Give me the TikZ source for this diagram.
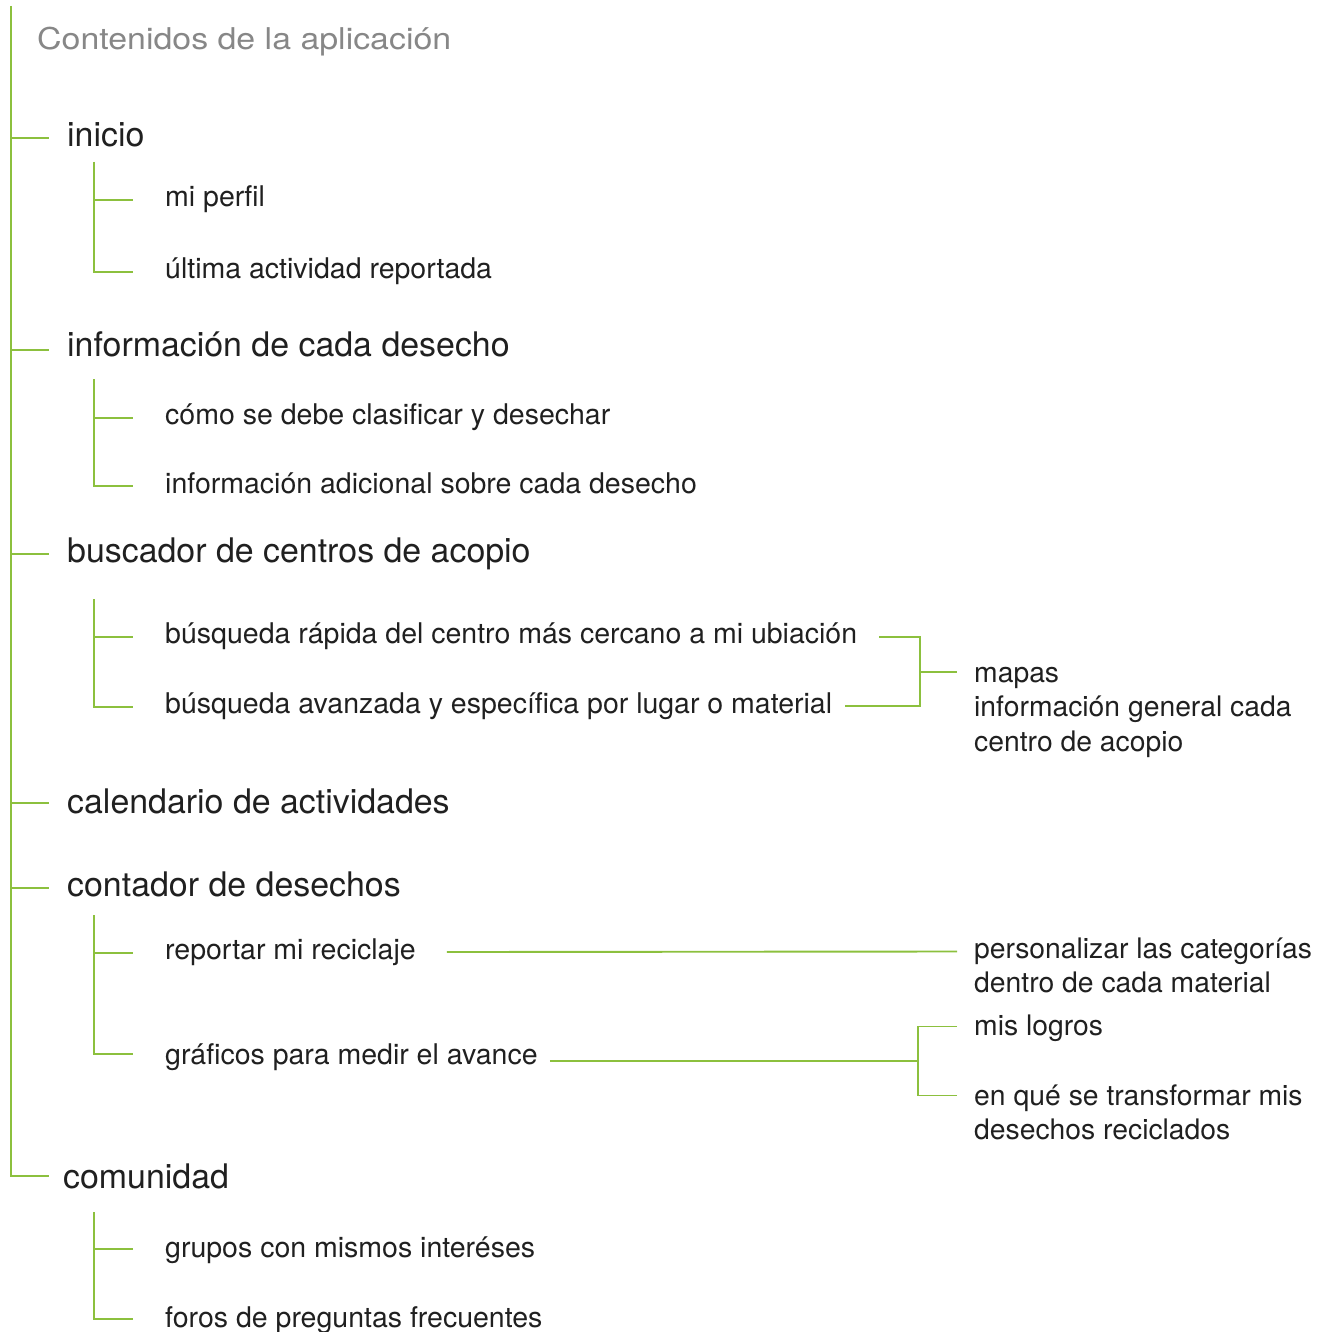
\documentclass[tikz,border=0pt]{standalone}
\usepackage{fontspec}
\setmainfont{TeX Gyre Heros}
\usetikzlibrary{calc}
\definecolor{leaf}{RGB}{140,192,62}
\definecolor{ink}{RGB}{32,32,32}
\definecolor{titlegray}{RGB}{135,135,135}
\begin{document}
\begin{tikzpicture}[x=1pt,y=-1pt,
  link/.style={draw=leaf,line width=1.9pt},
  titletext/.style={anchor=base west,inner sep=0pt,text=titlegray,xscale=1.13,transform shape,font=\fontsize{30}{36}\selectfont},
  lvlone/.style={anchor=base west,inner sep=0pt,text=ink,font=\fontsize{33.9}{40}\selectfont},
  lvltwo/.style={anchor=base west,inner sep=0pt,text=ink,font=\fontsize{28.5}{34.5}\selectfont},
  side/.style={anchor=base west,inner sep=0pt,text=ink,align=left,font=\fontsize{28.3}{34.5}\selectfont},
]
\useasboundingbox (0,0) rectangle (1322,1332);

% title
\node[titletext] (title) at (37,50) {Contenidos de la aplicación};

% level one
\node[lvlone] (inicio) at (67,147) {inicio};
\node[lvlone] (info) at (67,356) {información de cada desecho};
\node[lvlone] (buscador) at (67,562) {buscador de centros de acopio};
\node[lvlone] (calendario) at (67,813) {calendario de actividades};
\node[lvlone] (contador) at (67,896) {contador de desechos};
\node[lvlone] (comunidad) at (63,1188) {comunidad};

% level two
\node[lvltwo] (perfil) at (165,207) {mi perfil};
\node[lvltwo] (ultima) at (165,278) {última actividad reportada};
\node[lvltwo] (como) at (165,424) {cómo se debe clasificar y desechar};
\node[lvltwo] (adicional) at (165,493) {información adicional sobre cada desecho};
\node[lvltwo] (rapida) at (165,643) {búsqueda rápida del centro más cercano a mi ubiación};
\node[lvltwo] (avanzada) at (165,713) {búsqueda avanzada y específica por lugar o material};
\node[lvltwo] (reportar) at (165,959) {reportar mi reciclaje};
\node[lvltwo] (graficos) at (165,1064) {gráficos para medir el avance};
\node[lvltwo] (grupos) at (165,1257) {grupos con mismos interéses};
\node[lvltwo] (foros) at (165,1327) {foros de preguntas frecuentes};

% right side (node base = last line)
\node[side] (mapas) at (974,751) {mapas\\información general cada\\centro de acopio};
\node[side] (personal) at (974,992.5) {personalizar las categorías\\dentro de cada material};
\node[side] (logros) at (974,1035) {mis logros};
\node[side] (transf) at (974,1139.5) {en qué se transformar mis\\desechos reciclados};

% main trunk
\coordinate (root) at (11,6);
\draw[link] (root) |- ($(comunidad.base west)+(-14,-12)$);
\foreach \n/\d in {inicio/9,info/6,buscador/8,calendario/10,contador/8}
  \draw[link] (root |- {$(\n.base west)+(0,-\d)$}) -- ($(\n.base west)+(-18,-\d)$);

% sub trunks
\coordinate (subinicio) at (94,162);
\coordinate (subinfo) at (94,379);
\coordinate (subbusca) at (94,599);
\coordinate (subconta) at (94,915);
\coordinate (subcomu) at (94,1212);
\foreach \s/\n/\d in {subinicio/perfil/7,subinicio/ultima/6,subinfo/como/6,subinfo/adicional/7,
  subbusca/rapida/6,subbusca/avanzada/6,subconta/reportar/6,subconta/graficos/10,
  subcomu/grupos/8,subcomu/foros/8}
  \draw[link] (\s) |- ($(\n.base west)+(-32,-\d)$);

% búsqueda bracket
\coordinate (bjoin) at (920,672);
\draw[link] ($(rapida.base east)+(22,-6)$) -| (bjoin);
\draw[link] ($(avanzada.base east)+(13,-7)$) -| (bjoin);
\draw[link] (bjoin) -- ($(mapas.base west)+(-17,-79)$);

% reportar line
\draw[link] ($(reportar.base east)+(31,-7)$) -- ($(personal.base west)+(-17,-41)$);

% gráficos bracket
\coordinate (gjoin) at (918,1061);
\draw[link] ($(graficos.base east)+(12,-3)$) -- (gjoin);
\draw[link] ($(logros.base west)+(-17,-8.5)$) -| (gjoin);
\draw[link] ($(transf.base west)+(-17,-44)$) -| (gjoin);
\end{tikzpicture}
\end{document}
